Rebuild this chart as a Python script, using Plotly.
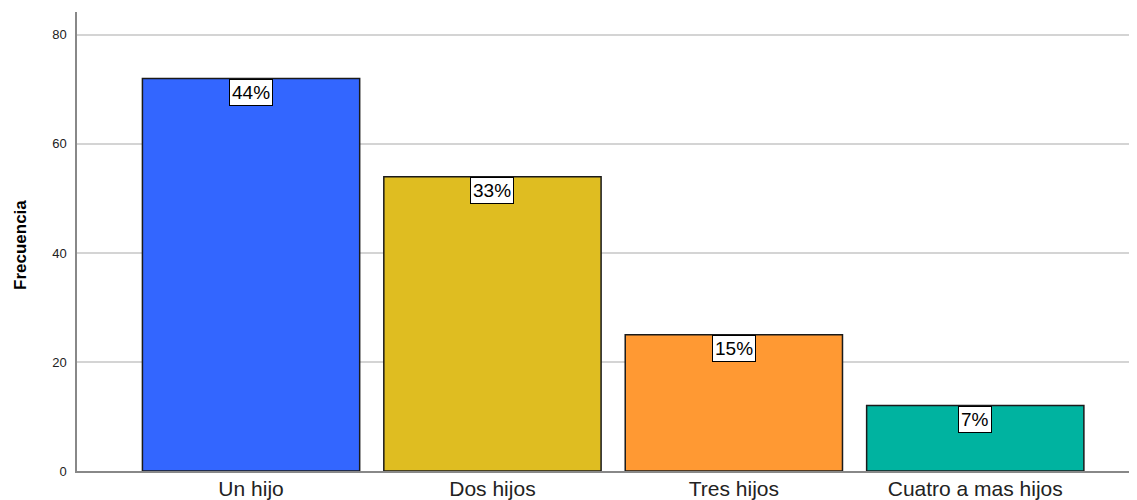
import plotly.graph_objects as go

categories = ["Un hijo", "Dos hijos", "Tres hijos", "Cuatro a mas hijos"]
frecuencias = [72, 54, 25, 12]
porcentajes = ["44%", "33%", "15%", "7%"]
colores = ["#3366FF", "#DFBD21", "#FF9933", "#00B3A0"]
y_ticks = [0, 20, 40, 60, 80]

# page has an 8px body margin; compensate
W, H = 1129, 492
L, R, T, B = 69, 0, 4, 29

fig = go.Figure()
fig.add_trace(go.Bar(
    x=list(range(len(categories))),
    y=frecuencias,
    marker=dict(color=colores, line=dict(color="#1a1a1a", width=1.5)),
    width=0.9,
    hoverinfo="skip",
))

for i, (v, p) in enumerate(zip(frecuencias, porcentajes)):
    fig.add_annotation(
        x=i, y=v, xref="x", yref="y", text=p, showarrow=False,
        yanchor="top", xanchor="center",
        font=dict(family="Liberation Sans", size=19, color="black"),
        bgcolor="white", bordercolor="black", borderwidth=1, borderpad=2,
    )

fig.update_layout(
    width=W, height=H,
    margin=dict(l=L, r=R, t=T, b=B),
    plot_bgcolor="white", paper_bgcolor="white",
    showlegend=False,
    font=dict(family="Liberation Sans", color="black"),
    xaxis=dict(
        range=[-0.721, 3.67],
        tickmode="array", tickvals=list(range(len(categories))), ticktext=categories,
        tickfont=dict(size=21, color="#222"),
        showgrid=False, showline=True, linecolor="#888", linewidth=1.5,
        ticks="", zeroline=False, ticklabelstandoff=-2,
    ),
    yaxis=dict(
        range=[0, 84.2],
        tickmode="array", tickvals=y_ticks,
        tickfont=dict(size=13, color="#222"),
        showgrid=True, gridcolor="#d4d4d4", gridwidth=1.5,
        showline=True, linecolor="#888", linewidth=1.5,
        ticks="", zeroline=False, ticklabelstandoff=6,
    ),
)

pw, ph = W - L - R, H - T - B
fig.add_annotation(
    x=(12 - L) / pw, y=(H - B - 237) / ph, xref="paper", yref="paper",
    text="<b>Frecuencia</b>", showarrow=False, textangle=-90,
    xanchor="center", yanchor="middle",
    font=dict(family="Liberation Sans Narrow, Liberation Sans", size=17, color="black"),
)

fig.write_html("out.html")
